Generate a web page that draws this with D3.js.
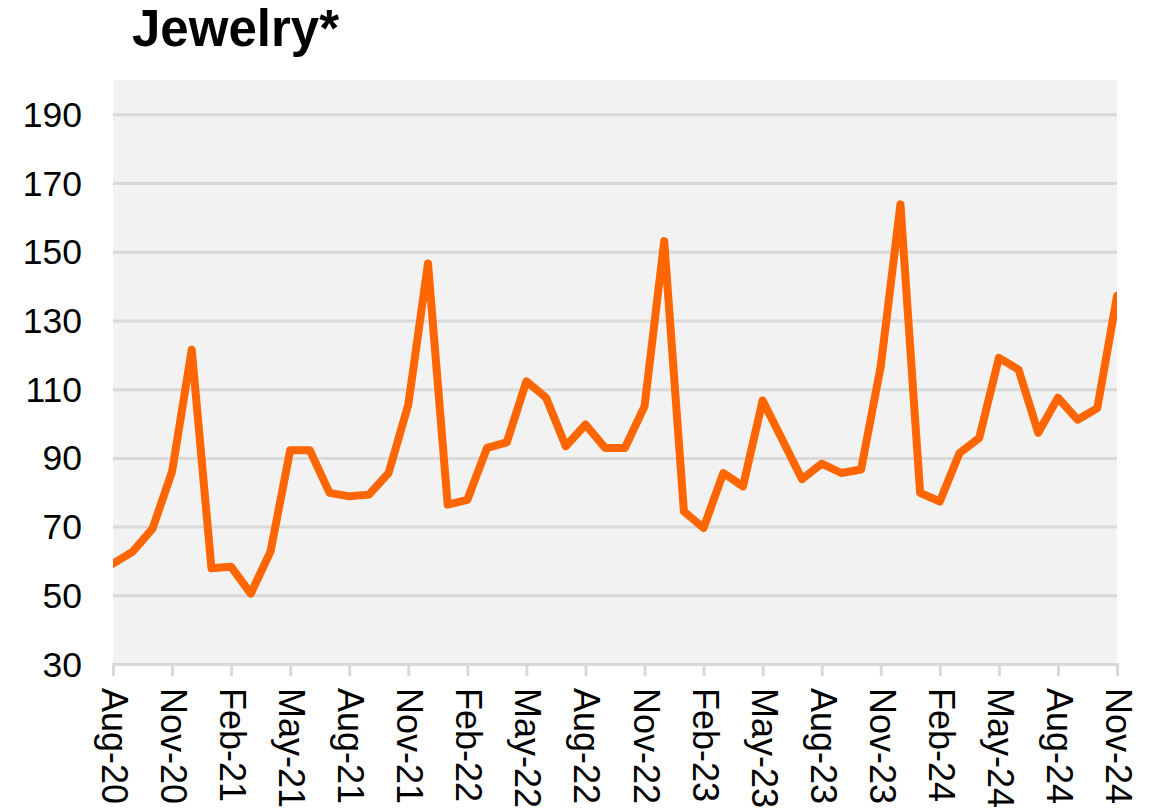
<!DOCTYPE html>
<html>
<head>
<meta charset="utf-8">
<script src="https://cdn.jsdelivr.net/npm/d3@7"></script>
<style>
  html, body { margin: 0; padding: 0; background: #ffffff; }
  svg { display: block; font-family: "Liberation Sans", Arial, sans-serif; }
</style>
</head>
<body>
<svg id="chart" width="1158" height="811"></svg>
<script>
// Monthly jewelry index, Aug-20 to Nov-24
const months = [
  "Aug-20","Sep-20","Oct-20","Nov-20","Dec-20",
  "Jan-21","Feb-21","Mar-21","Apr-21","May-21","Jun-21","Jul-21","Aug-21","Sep-21","Oct-21","Nov-21","Dec-21",
  "Jan-22","Feb-22","Mar-22","Apr-22","May-22","Jun-22","Jul-22","Aug-22","Sep-22","Oct-22","Nov-22","Dec-22",
  "Jan-23","Feb-23","Mar-23","Apr-23","May-23","Jun-23","Jul-23","Aug-23","Sep-23","Oct-23","Nov-23","Dec-23",
  "Jan-24","Feb-24","Mar-24","Apr-24","May-24","Jun-24","Jul-24","Aug-24","Sep-24","Oct-24","Nov-24"
];

const values = [
  59.2, 62.7, 69.3, 86.0, 121.5,
  57.9, 58.3, 50.5, 62.7, 92.2, 92.2, 79.8, 78.8, 79.3, 85.6, 105.5, 146.6,
  76.4, 77.8, 92.9, 94.5, 112.3, 107.5, 93.4, 99.7, 92.9, 92.9, 105.0, 153.1,
  74.4, 69.6, 85.6, 81.7, 106.7, 95.3, 83.8, 88.3, 85.6, 86.6, 116.7, 163.8,
  79.8, 77.3, 91.4, 95.8, 119.1, 115.7, 97.3, 107.5, 101.1, 104.5, 137.1
];

const xTickLabels = [
  "Aug-20","Nov-20","Feb-21","May-21","Aug-21","Nov-21","Feb-22","May-22","Aug-22",
  "Nov-22","Feb-23","May-23","Aug-23","Nov-23","Feb-24","May-24","Aug-24","Nov-24"
];

const yTicks = [30, 50, 70, 90, 110, 130, 150, 170, 190];

const title = "Jewelry*";

// Layout
const plot = { left: 113, right: 1117, top: 80, bottom: 664 };

const svg = d3.select("#chart");

const x = d3.scalePoint()
  .domain(months)
  .range([plot.left, plot.right]);

const y = d3.scaleLinear()
  .domain([30, 200])
  .range([plot.bottom, plot.top]);

// Title
svg.append("text")
  .attr("x", 132)
  .attr("y", 46)
  .attr("font-size", 51)
  .attr("font-weight", "bold")
  .attr("fill", "#000")
  .text(title);

// Plot background
svg.append("rect")
  .attr("x", plot.left)
  .attr("y", plot.top)
  .attr("width", plot.right - plot.left)
  .attr("height", plot.bottom - plot.top)
  .attr("fill", "#f2f2f2");

// Horizontal gridlines via a left axis with full-width ticks
const yAxis = d3.axisLeft(y)
  .tickValues(yTicks.filter(v => v > 30))
  .tickSize(-(plot.right - plot.left))
  .tickFormat("");

svg.append("g")
  .attr("transform", `translate(${plot.left},0)`)
  .call(yAxis)
  .call(g => g.select(".domain").remove())
  .call(g => g.selectAll(".tick line")
    .attr("stroke", "#d9d9d9")
    .attr("stroke-width", 3));

// Y tick labels
svg.append("g")
  .selectAll("text")
  .data(yTicks)
  .join("text")
  .attr("x", 82)
  .attr("y", d => y(d))
  .attr("dy", "0.355em")
  .attr("text-anchor", "end")
  .attr("font-size", 35.5)
  .attr("fill", "#000")
  .text(d => d);

// Bottom axis: baseline and month ticks every quarter
const xAxis = d3.axisBottom(x)
  .tickValues(xTickLabels)
  .tickSize(12)
  .tickFormat("");

svg.append("g")
  .attr("transform", `translate(0,${plot.bottom})`)
  .call(xAxis)
  .call(g => g.select(".domain")
    .attr("stroke", "#d9d9d9")
    .attr("stroke-width", 3))
  .call(g => g.selectAll(".tick line")
    .attr("stroke", "#d9d9d9")
    .attr("stroke-width", 3));

// Rotated month labels reading top to bottom
svg.append("g")
  .selectAll("text")
  .data(xTickLabels)
  .join("text")
  .attr("transform", d => `translate(${x(d)},688) rotate(90)`)
  .attr("x", 0)
  .attr("y", 11)
  .attr("text-anchor", "start")
  .attr("font-size", 36)
  .attr("fill", "#000")
  .text(d => d);

// Series line, clipped to the plot area
svg.append("clipPath")
  .attr("id", "plot-clip")
  .append("rect")
  .attr("x", plot.left)
  .attr("y", plot.top)
  .attr("width", plot.right - plot.left)
  .attr("height", plot.bottom - plot.top);

const line = d3.line()
  .x((d, i) => x(months[i]))
  .y(d => y(d));

svg.append("path")
  .datum(values)
  .attr("clip-path", "url(#plot-clip)")
  .attr("fill", "none")
  .attr("stroke", "#ff6600")
  .attr("stroke-width", 8)
  .attr("stroke-linejoin", "round")
  .attr("stroke-linecap", "round")
  .attr("d", line);
</script>
</body>
</html>
